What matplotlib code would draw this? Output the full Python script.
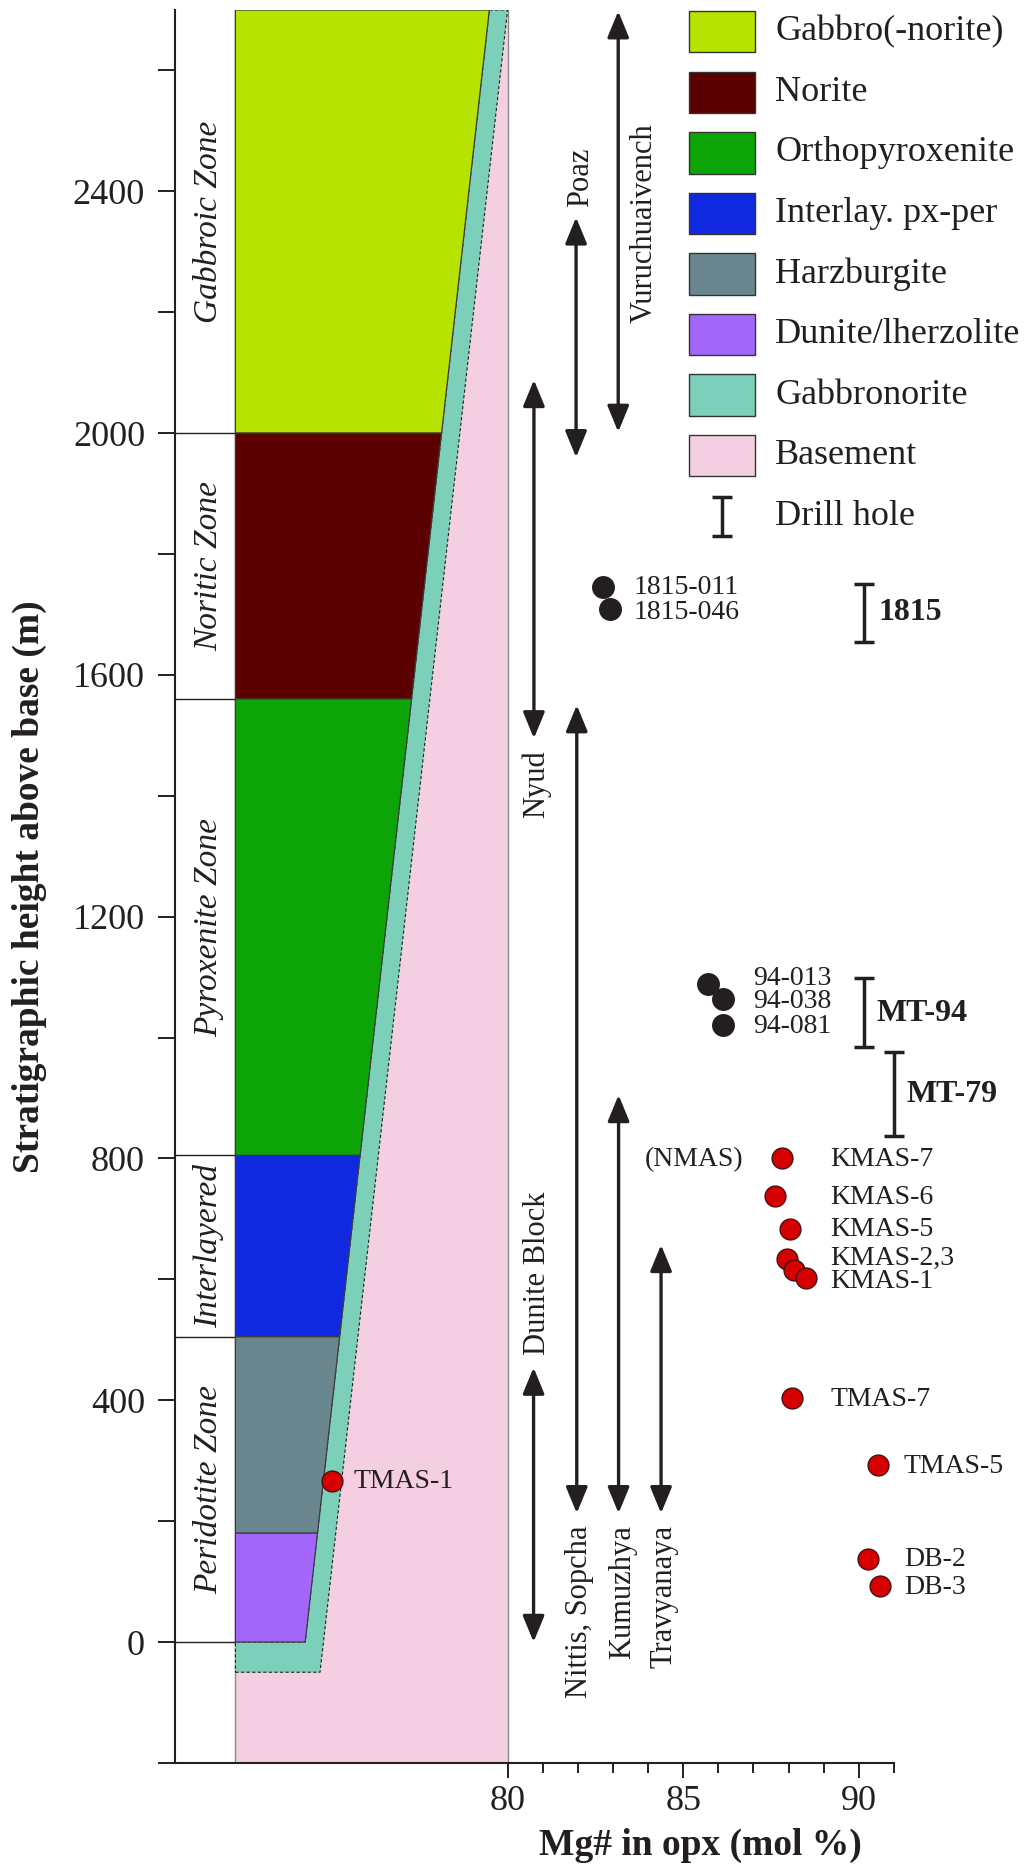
import matplotlib.pyplot as plt
from matplotlib.patches import Polygon, Rectangle

plt.rcParams['font.family'] = ['Liberation Serif', 'DejaVu Serif']

INK = "#231f20"

# Lithological units of the column (heights in m above base)
layer_names = ["Gabbro(-norite)", "Norite", "Orthopyroxenite", "Interlay. px-per",
               "Harzburgite", "Dunite/lherzolite", "Gabbronorite", "Basement"]
layer_colors = ["#b6e300", "#5a0000", "#0da408", "#1029e0",
                "#6a868f", "#a266fb", "#7ccfb9", "#f4cfe1"]
layer_bottoms = [2000, 1560, 805, 505, 180, 0]
layer_tops = [2700, 2000, 1560, 805, 505, 180]

# Zones named on the left of the column
zone_names = ["Gabbroic Zone", "Noritic Zone", "Pyroxenite Zone", "Interlayered", "Peridotite Zone"]
zone_bottoms = [2000, 1560, 805, 505, 0]
zone_tops = [2700, 2000, 1560, 805, 505]

# Samples: Mg# in opx and stratigraphic height
black_names = ["1815-011", "1815-046", "94-013", "94-038", "94-081"]
black_mg = [82.72, 82.91, 85.70, 86.13, 86.13]
black_height = [1745, 1709, 1088, 1063, 1021]

red_names = ["KMAS-7", "KMAS-6", "KMAS-5", "KMAS-2", "KMAS-3", "KMAS-1",
             "TMAS-7", "TMAS-5", "DB-2", "DB-3", "TMAS-1"]
red_mg = [87.82, 87.62, 88.03, 87.97, 88.15, 88.49, 88.11, 90.55, 90.27, 90.59, 74.99]
red_height = [801, 738, 683, 634, 615, 603, 403, 293, 138, 93, 266]

# sample labels: (text, x, y, ha)
sample_labels = [
    ("1815-011", 83.58, 1745, "left"), ("1815-046", 83.58, 1703, "left"),
    ("94-013", 86.98, 1097, "left"), ("94-038", 86.98, 1060, "left"),
    ("94-081", 86.98, 1018, "left"), ("(NMAS)", 86.70, 798, "right"),
    ("KMAS-7", 89.2, 799, "left"), ("KMAS-6", 89.2, 736, "left"),
    ("KMAS-5", 89.2, 683, "left"), ("KMAS-2,3", 89.2, 635, "left"),
    ("KMAS-1", 89.2, 597, "left"), ("TMAS-7", 89.2, 401, "left"),
    ("TMAS-5", 91.27, 290, "left"), ("DB-2", 91.28, 137, "left"),
    ("DB-3", 91.28, 91, "left"), ("TMAS-1", 75.6, 265, "left"),
]

# Drill holes (height range)
drill_names = ["1815", "MT-94", "MT-79"]
drill_mg = [90.15, 90.15, 91.0]
drill_bottom = [1655, 984, 837]
drill_top = [1751, 1098, 976]
drill_label_x = [90.55, 90.50, 91.37]
drill_label_y = [1703, 1039, 905]

# Stratigraphic ranges of the intrusions / blocks
range_names = ["Vuruchuaivench", "Poaz", "Nyud", "Dunite Block",
               "Nittis, Sopcha", "Kumuzhya", "Travyanaya"]
range_mg = [83.15, 81.95, 80.75, 80.74, 81.97, 83.16, 84.37]
range_bottom = [2002, 1960, 1495, 0, 213, 213, 213]
range_top = [2698, 2357, 2088, 454, 1550, 905, 657]
# label anchor: (x of baseline, y, alignment along text)
range_label_x = [84.09, 82.29, 81.03, 81.07, 82.26, 83.49, 84.68]
range_label_y = [2348, 2424, 1420, 610, 193, 193, 193]
range_label_ha = ["center", "center", "center", "center", "right", "right", "right"]

# column geometry
COL_LEFT, COL_RIGHT = 72.25, 80.0
GN_BASE = -50
GN_WIDTH = 0.52
SLOPE = 0.0019418
TOP = 2700


def gn_right(h):
    return COL_RIGHT - (TOP - h) * SLOPE


def gn_left(h):
    return gn_right(h) - GN_WIDTH


def drill_bars(ax, x, y, half):
    # I-beam markers for drill hole intervals, allowed to spill past the axes
    bars = ax.errorbar(x, y, yerr=half, fmt="none", ecolor=INK, elinewidth=2.5,
                       capsize=7, capthick=2.5)
    for artist in bars.lines[1] + bars.lines[2]:
        artist.set_clip_on(False)


fig = plt.figure(figsize=(10.29, 18.70), dpi=100)
ax = fig.add_axes([0.17007, 0.05727, 0.69864, 0.93738])
ax.set_xlim(70.53, 91.0)
ax.set_ylim(-200, TOP)

# basement, gabbronorite margin and layered units
ax.add_patch(Rectangle((COL_LEFT, -200), COL_RIGHT - COL_LEFT, TOP + 200,
                       fc=layer_colors[7], ec="#8a8a8a", lw=1.0))
gn = [(COL_LEFT, GN_BASE), (gn_right(GN_BASE), GN_BASE), (gn_right(TOP), TOP),
      (gn_left(TOP), TOP), (gn_left(0), 0), (COL_LEFT, 0)]
ax.add_patch(Polygon(gn, closed=True, fc=layer_colors[6], ec=INK, lw=0.8, ls=(0, (3, 2))))
for b, t, c in zip(layer_bottoms, layer_tops, layer_colors[:6]):
    pts = [(COL_LEFT, b), (gn_left(b), b), (gn_left(t), t), (COL_LEFT, t)]
    ax.add_patch(Polygon(pts, closed=True, fc=c, ec="#3c3c3c", lw=0.9))

# zone boundaries and names
ax.hlines(zone_bottoms, 70.53, COL_LEFT, color=INK, lw=1.0)
for name, b, t in zip(zone_names, zone_bottoms, zone_tops):
    ax.text(71.74, (b + t) / 2, name, rotation=90, rotation_mode="anchor",
            ha="center", va="baseline", style="italic", fontsize=24, color=INK)

# range arrows
for name, x, b, t, lx, ly, ha in zip(range_names, range_mg, range_bottom, range_top,
                                     range_label_x, range_label_y, range_label_ha):
    ax.annotate("", xy=(x, t), xytext=(x, b),
                arrowprops=dict(arrowstyle="<|-|>,head_length=0.8,head_width=0.33",
                                mutation_scale=20, lw=2.4, color=INK,
                                shrinkA=0, shrinkB=0))
    ax.text(lx, ly, name, rotation=90, rotation_mode="anchor", ha=ha,
            va="baseline", fontsize=22, color=INK)

# drill holes
mid = [(b + t) / 2 for b, t in zip(drill_bottom, drill_top)]
half = [(t - b) / 2 for b, t in zip(drill_bottom, drill_top)]
drill_bars(ax, drill_mg, mid, half)
for name, x, y in zip(drill_names, drill_label_x, drill_label_y):
    ax.text(x, y, name, ha="left", va="center", fontsize=23, fontweight="bold", color=INK)

# samples
ax.plot(black_mg, black_height, "o", ls="none", ms=15.5, mfc=INK, mec=INK)
for x, y in zip(red_mg, red_height):
    ax.plot(x, y, "o", ms=15, mfc="#d60000", mec="#4a0f0f", mew=1.0)
for txt, x, y, ha in sample_labels:
    ax.text(x, y, txt, ha=ha, va="center", fontsize=20, color=INK)

# legend
for i, (name, c) in enumerate(zip(layer_names, layer_colors)):
    yc = 2664 - 100.2 * i
    ax.add_patch(Rectangle((85.17, yc - 34.3), 1.88, 68.6, fc=c, ec="#333333", lw=1.0))
    ax.text(87.62, yc, name, ha="left", va="center", fontsize=26, color=INK)
yc = 2664 - 100.2 * 8
drill_bars(ax, [86.11], [yc], [32])
ax.text(87.62, yc, "Drill hole", ha="left", va="center", fontsize=26, color=INK)

# axes styling
for side in ["top", "right"]:
    ax.spines[side].set_visible(False)
for side in ["left", "bottom"]:
    ax.spines[side].set_color(INK)
    ax.spines[side].set_linewidth(1.5)

ax.set_xticks([80, 85, 90])
ax.set_xticks([81, 82, 83, 84, 86, 87, 88, 89, 91], minor=True)
ax.set_yticks(range(0, 2401, 400))
ax.set_yticks(range(-200, 2601, 400), minor=True)
ax.tick_params(axis="both", which="both", direction="out", color=INK, width=1.4,
               labelsize=26, labelcolor=INK)
ax.tick_params(axis="y", which="both", length=12.6, pad=9)
ax.tick_params(axis="x", which="major", length=10.8, pad=5)
ax.tick_params(axis="x", which="minor", length=7.2)

ax.text(85.5, -352, "Mg# in opx (mol %)", ha="center", va="baseline",
        fontsize=27, fontweight="bold", color=INK)
ax.text(66.66, 1250, "Stratigraphic height above base (m)", rotation=90,
        rotation_mode="anchor", ha="center", va="baseline",
        fontsize=27, fontweight="bold", color=INK)

fig.savefig("out.png", dpi=100)
